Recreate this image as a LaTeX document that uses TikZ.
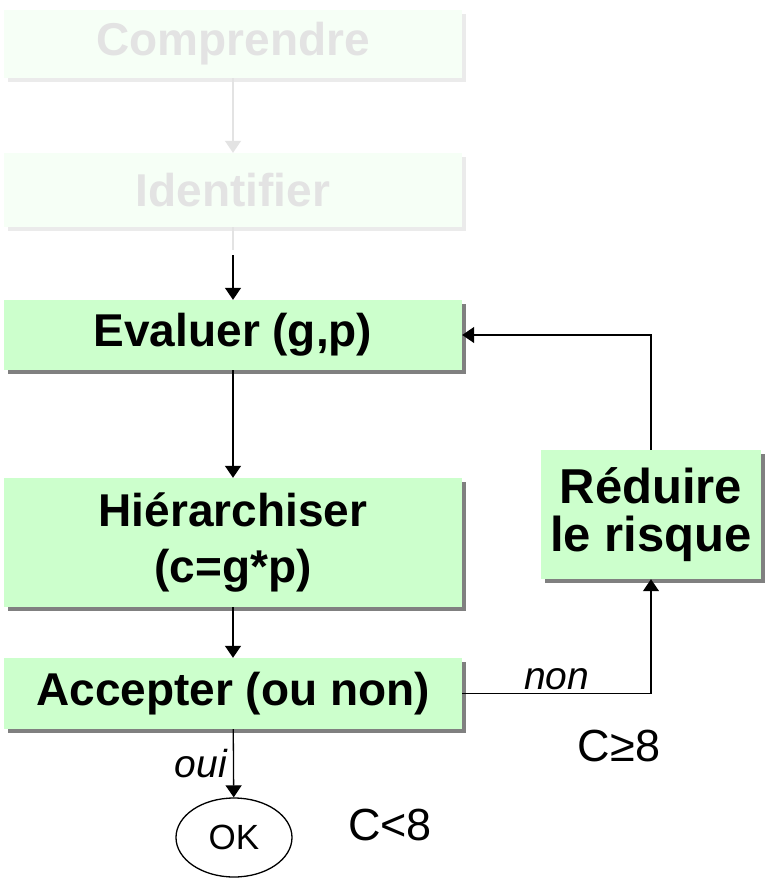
\documentclass[tikz,border=0pt]{standalone}
\usepackage{fontspec}
\setmainfont{Liberation Sans}
\usepackage{tikz}
\usetikzlibrary{arrows.meta, shadows, shapes.geometric}
\definecolor{vertclair}{HTML}{CCFFCC}
\definecolor{vertpale}{HTML}{F6FFF6}
\definecolor{grispale}{HTML}{E3E3E3}

\begin{document}
\begin{tikzpicture}[x=1pt, y=-1pt,
    boite/.style={fill=vertclair, minimum width=458pt, inner sep=0pt, align=center,
        font=\fontsize{46}{56}\selectfont\bfseries},
    etape/.style={boite, drop shadow={shadow xshift=4pt, shadow yshift=-4pt, fill=gray, opacity=1}},
    etapepale/.style={boite, fill=vertpale, text=grispale,
        drop shadow={shadow xshift=4pt, shadow yshift=-4pt, fill=black!8, opacity=1}},
    fleche/.style={-{Triangle[width=16pt,length=12pt]}, line width=1.3pt},
    flechepale/.style={fleche, draw=grispale, fill=grispale},
    etiquette/.style={font=\fontsize{39}{42}\selectfont\itshape},
    seuil/.style={font=\fontsize{45}{48}\selectfont}]
    \path[use as bounding box, fill=white] (0,0) rectangle (764,878);

    \node[etapepale, minimum height=68pt] (comprendre) at (233,44) {Comprendre};
    \node[etapepale, minimum height=74pt] (identifier) at (233,190) {Identifier};
    \node[etape, minimum height=70pt] (evaluer) at (233,335) {Evaluer (g,p)};
    \node[etape, minimum height=129pt] (hierarchiser) at (233,542.5) {Hiérarchiser\\(c=g*p)};
    \node[etape, minimum height=71pt] (accepter) at (233,693.5) {Accepter (ou non)};
    \node[etape, minimum width=220pt, minimum height=129pt,
        font=\fontsize{49}{48}\selectfont\bfseries] (reduire) at (651,514.5) {Réduire\\le risque};
    \node[draw, ellipse, line width=1.3pt, minimum width=116pt, minimum height=79pt, inner sep=0pt,
        font=\fontsize{35}{38}\selectfont] (ok) at (234,837.5) {OK};

    \coordinate (coupure) at (233,250);
    \coordinate (reprise) at (233,255);

    \draw[flechepale] (comprendre) -- (identifier);
    \draw[grispale, line width=1.3pt] (identifier) -- (coupure);
    \draw[fleche] (reprise) -- (evaluer);
    \draw[fleche] (evaluer) -- (hierarchiser);
    \draw[fleche] (hierarchiser) -- (accepter);
    \draw[fleche] (accepter) -- node[left, etiquette, inner sep=6pt] {oui} (ok);
    \draw[fleche] (accepter.east) -| node[pos=0.25, above, etiquette] {non} (reduire.south);
    \draw[fleche] (reduire.north) |- (evaluer.east);

    \node[seuil] (cgrand) at (619,746) {C≥8};
    \node[seuil] (cpetit) at (390,825) {C<8};
\end{tikzpicture}
\end{document}
